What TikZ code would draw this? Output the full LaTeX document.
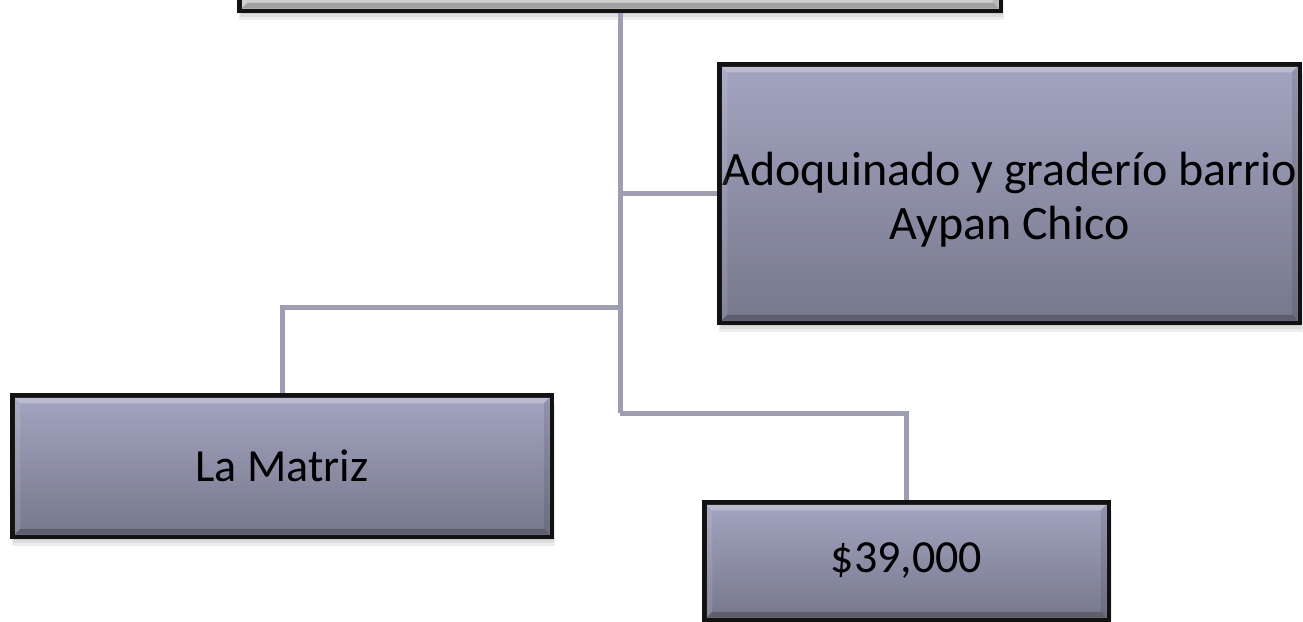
\documentclass[tikz,border=0pt]{standalone}
\usepackage{fontspec}
\setmainfont{Carlito}
\usetikzlibrary{calc,backgrounds}
\definecolor{boxtop}{HTML}{A3A4C0}
\definecolor{boxbot}{HTML}{76788C}
\definecolor{greytop}{HTML}{DEDEDE}
\definecolor{greybot}{HTML}{CDCDCD}
\definecolor{connc}{HTML}{9D9DB3}
\definecolor{edgec}{HTML}{121212}
\newcommand\bevelbox[1]{%
  \fill[white,opacity=0.28] ($(#1.north west)+(2.25,2.25)$) -- ($(#1.north east)+(-2.25,2.25)$) -- ($(#1.north east)+(-8,8)$) -- ($(#1.north west)+(8,8)$) -- cycle;
  \fill[white,opacity=0.10] ($(#1.north west)+(2.25,2.25)$) -- ($(#1.north west)+(8,8)$) -- ($(#1.south west)+(8,-8)$) -- ($(#1.south west)+(2.25,-2.25)$) -- cycle;
  \fill[black,opacity=0.10] ($(#1.north east)+(-2.25,2.25)$) -- ($(#1.north east)+(-8,8)$) -- ($(#1.south east)+(-8,-8)$) -- ($(#1.south east)+(-2.25,-2.25)$) -- cycle;
  \fill[black,opacity=0.22] ($(#1.south west)+(2.25,-2.25)$) -- ($(#1.south east)+(-2.25,-2.25)$) -- ($(#1.south east)+(-8,-8)$) -- ($(#1.south west)+(8,-8)$) -- cycle;
}
\newcommand\shadowbox[1]{%
  \foreach \d in {3,6,9}{
    \fill[black,opacity=0.07] ($(#1.north west)+(3-\d/3,\d)$) rectangle ($(#1.south east)+(\d/3,\d)$);
  }
}
\begin{document}
\begin{tikzpicture}[x=1pt,y=-1pt,
  box/.style={rectangle, draw=edgec, line width=4.5pt, outer sep=0pt, inner sep=0pt,
    top color=boxtop, bottom color=boxbot, text=black, align=center,
    font=\fontsize{46}{52}\selectfont},
  greybox/.style={box, top color=greytop, bottom color=greybot},
  conn/.style={draw=connc, line width=5pt, line join=miter}]
\useasboundingbox (0,0) rectangle (1303,621);
\clip (0,0) rectangle (1303,621);

\node[greybox, minimum width=761.5pt, minimum height=208.5pt] (top) at (620,-93.5) {};
\node[box, minimum width=580.5pt, minimum height=258.5pt, font=\fontsize{48}{54}\selectfont] (right) at (1009.5,193.5)
  {\raisebox{-14pt}[0pt][0pt]{\begin{tabular}{@{}c@{}}Adoquinado y grader\'{\i}o barrio\\Aypan Chico\end{tabular}}};
\node[box, minimum width=539.5pt, minimum height=141.5pt] (left) at (282,466) {La Matriz};
\node[box, minimum width=404.5pt, minimum height=117.5pt] (bottom) at (906.5,561) {\$39,000};

\bevelbox{top}
\bevelbox{right}
\bevelbox{left}
\bevelbox{bottom}

\coordinate (jr) at (620,193.5);
\coordinate (jl) at (620,307);
\coordinate (jb) at (620,413);

\begin{scope}[on background layer]
  \fill[white] (0,0) rectangle (1303,621);
  \shadowbox{top}
  \shadowbox{right}
  \shadowbox{left}
  \shadowbox{bottom}
  \draw[conn] (top.south) -- (jb);
  \draw[conn] (jr) -- (right.west);
  \draw[conn] (jl) -| (left.north);
  \draw[conn] (jb) -| (bottom.north);
\end{scope}
\end{tikzpicture}
\end{document}
